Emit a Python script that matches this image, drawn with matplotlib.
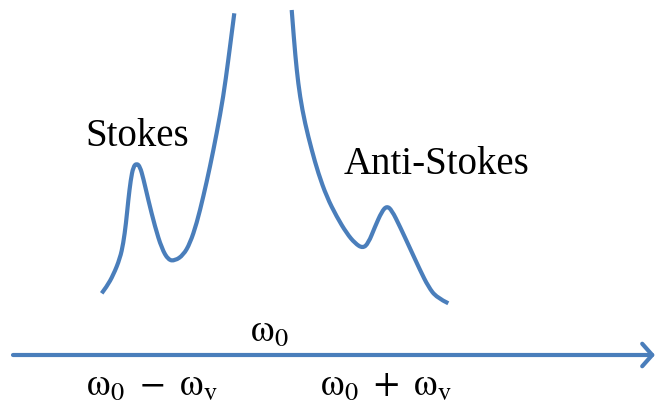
import matplotlib
matplotlib.use("Agg")
import matplotlib.pyplot as plt
from matplotlib.path import Path
from matplotlib.patches import PathPatch

# Raman scattering sketch: traced curve points (frequency axis, intensity)
left_freq = [101.7, 106.7, 113.3, 120.0, 123.3, 126.0, 128.3, 130.7, 133.3, 136.7,
             140.0, 143.3, 148.3, 155.0, 161.7, 168.3, 175.0, 183.3, 190.0, 196.7,
             203.3, 210.0, 216.7, 223.3, 228.3, 231.7, 234.3]
left_int = [113.7, 120.3, 132.0, 148.7, 163.7, 183.7, 207.0, 227.0, 240.3, 243.7,
            240.3, 228.7, 207.0, 180.3, 158.7, 147.0, 146.3, 152.0, 163.7, 183.7,
            210.3, 240.3, 273.7, 310.3, 347.0, 373.7, 393.7]

right_freq = [291.7, 294.0, 296.7, 300.0, 305.0, 311.7, 318.3, 326.7, 336.7, 346.7,
              355.0, 362.7, 368.3, 375.0, 381.7, 386.7, 391.7, 400.0, 410.0, 420.0,
              428.3, 436.7, 448.3]
right_int = [397.0, 367.0, 337.0, 310.3, 283.7, 257.0, 233.7, 210.3, 190.3, 173.7,
             163.7, 158.7, 163.7, 180.3, 195.3, 201.0, 197.0, 180.3, 158.7, 137.0,
             120.3, 109.3, 103.7]

labels = {
    "Stokes": (137, 271),
    "Anti-Stokes": (436, 243),
}
axis_y = 52
axis_labels = [
    (r"$\mathrm{\omega}_0$", 269, 76),
    (r"$\mathrm{\omega}_0\ -\ \mathrm{\omega}_\mathrm{v}$", 152, 22),
    (r"$\mathrm{\omega}_0\ +\ \mathrm{\omega}_\mathrm{v}$", 386, 22),
]

blue = "#4A7EBB"


def smooth_path(xs, ys):
    # quadratic bezier through midpoints, traced points act as control points
    pts = list(zip(xs, ys))
    verts = [pts[0]]
    codes = [Path.MOVETO]
    for i in range(1, len(pts) - 1):
        mid = ((pts[i][0] + pts[i + 1][0]) / 2, (pts[i][1] + pts[i + 1][1]) / 2)
        if i == len(pts) - 2:
            mid = pts[-1]
        verts += [pts[i], mid]
        codes += [Path.CURVE3, Path.CURVE3]
    return Path(verts, codes)


plt.rcParams["mathtext.fontset"] = "stix"

fig = plt.figure(figsize=(6.56, 4.07), dpi=100)
ax = fig.add_axes([0, 0, 1, 1])
ax.set_xlim(0, 656)
ax.set_ylim(0, 407)
ax.axis("off")

for xs, ys in [(left_freq, left_int), (right_freq, right_int)]:
    ax.add_patch(PathPatch(smooth_path(xs, ys), facecolor="none", edgecolor=blue,
                           lw=3.0, capstyle="butt", joinstyle="round"))

ax.annotate("", xy=(655, axis_y), xytext=(13, axis_y),
            arrowprops=dict(arrowstyle="->,head_length=0.4,head_width=0.45",
                            color=blue, lw=3.0, mutation_scale=18,
                            shrinkA=0, shrinkB=0))

for txt, (x, y) in labels.items():
    ax.text(x, y, txt, fontsize=28, family=["Liberation Serif", "DejaVu Serif"],
            ha="center", va="center", color="black")

for txt, x, y in axis_labels:
    ax.text(x, y, txt, fontsize=27, ha="center", va="center", color="black")

fig.savefig("out.png", dpi=100)
